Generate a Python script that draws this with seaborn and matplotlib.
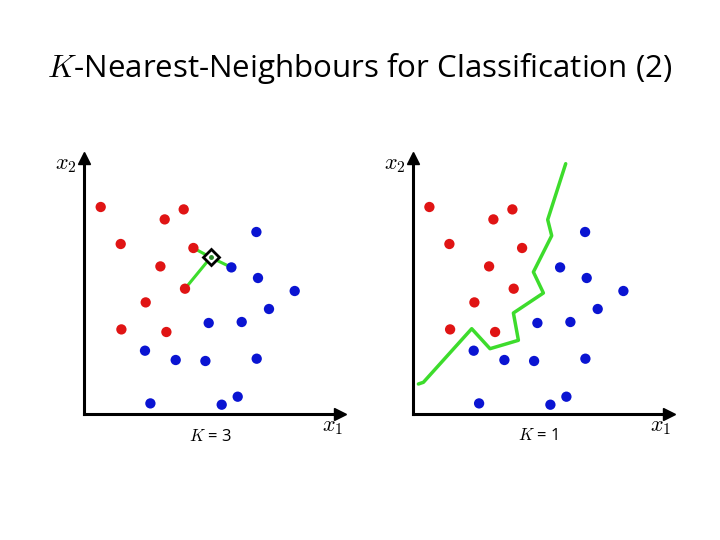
import pandas as pd
import matplotlib.pyplot as plt
import seaborn as sns

# training points (same layout in both panels)
red_x1 = [16.7, 80.7, 99.7, 36.7, 109.4, 76.4, 101.0, 61.7, 37.4, 82.4]
red_x2 = [207.0, 194.6, 204.6, 170.0, 166.0, 147.6, 125.3, 111.6, 84.6, 82.0]
blue_x1 = [172.4, 147.4, 174.0, 210.7, 185.0, 124.7, 157.7, 61.0, 91.7, 121.4, 172.7, 66.4, 137.7, 153.7]
blue_x2 = [182.0, 146.6, 136.0, 123.0, 105.0, 91.0, 92.0, 63.3, 54.0, 53.0, 55.3, 10.6, 9.3, 17.3]

# query point and its 3 nearest neighbours
query = (126.7, 156.6)
nn_x1 = [109.4, 147.4, 101.0]
nn_x2 = [166.0, 146.6, 125.3]

# K=1 decision boundary
bound_x1 = [5.7, 10.7, 59.0, 77.3, 105.7, 100.7, 130.7, 120.7, 139.0, 135.0, 153.0]
bound_x2 = [30.0, 31.7, 85.3, 65.3, 73.7, 101.0, 121.0, 142.0, 178.3, 194.3, 250.3]

df = pd.DataFrame({
    'x1': red_x1 + blue_x1,
    'x2': red_x2 + blue_x2,
    'cls': ['red'] * len(red_x1) + ['blue'] * len(blue_x1),
})

sns.set_style('white')
plt.rcParams['mathtext.fontset'] = 'cm'
plt.rcParams['font.family'] = ['Open Sans', 'DejaVu Sans']
plt.rcParams['text.color'] = 'black'

fig = plt.figure(figsize=(7.2, 5.4), dpi=100)
ax1 = fig.add_axes([84 / 720, 126 / 540, 256 / 720, 256 / 540])
ax2 = fig.add_axes([412.7 / 720, 126 / 540, 256 / 720, 256 / 540])

palette = {'red': '#e01414', 'blue': '#0a14d2'}

for ax in (ax1, ax2):
    sns.scatterplot(data=df, x='x1', y='x2', hue='cls', palette=palette,
                    s=55, edgecolor='none', legend=False, ax=ax, zorder=3)
    ax.set_xlim(0, 256)
    ax.set_ylim(0, 256)
    for s in ['top', 'right']:
        ax.spines[s].set_visible(False)
    for s in ['left', 'bottom']:
        ax.spines[s].set_linewidth(2.2)
        ax.spines[s].set_color('black')
    ax.set_xticks([])
    ax.set_yticks([])
    ax.set_xlabel('')
    ax.set_ylabel('')
    ax.plot(1, 0, '>k', ms=8, transform=ax.transAxes, clip_on=False)
    ax.plot(0, 1, '^k', ms=8, transform=ax.transAxes, clip_on=False)
    ax.text(-0.07, 0.975, '$x_2$', transform=ax.transAxes, fontsize=16,
            ha='center', va='center')
    ax.text(0.97, -0.05, '$x_1$', transform=ax.transAxes, fontsize=16,
            ha='center', va='center')

# K=3 panel: lines to neighbours + query marker
for nx, ny in zip(nn_x1, nn_x2):
    ax1.plot([query[0], nx], [query[1], ny], color='#3ddc2c', lw=2.2, zorder=2)
ax1.plot(query[0], query[1], marker='D', ms=8, mfc='white', mec='black',
         mew=2, zorder=4)
ax1.plot(query[0], query[1], marker='o', ms=2.5, color='#2a8a2a', zorder=5)

# K=1 panel: boundary
ax2.plot(bound_x1, bound_x2, color='#3ddc2c', lw=2.5, zorder=2)

fig.text(210 / 720, 1 - 437 / 540, '$K$ = 3', fontsize=12, ha='center', va='center')
fig.text(538 / 720, 1 - 436 / 540, '$K$ = 1', fontsize=12, ha='center', va='center')

fig.text(0.5, 1 - 68 / 540, '$K$-Nearest-Neighbours for Classification (2)',
         fontsize=22.5, ha='center', va='center')

fig.savefig('out.png', dpi=100)
